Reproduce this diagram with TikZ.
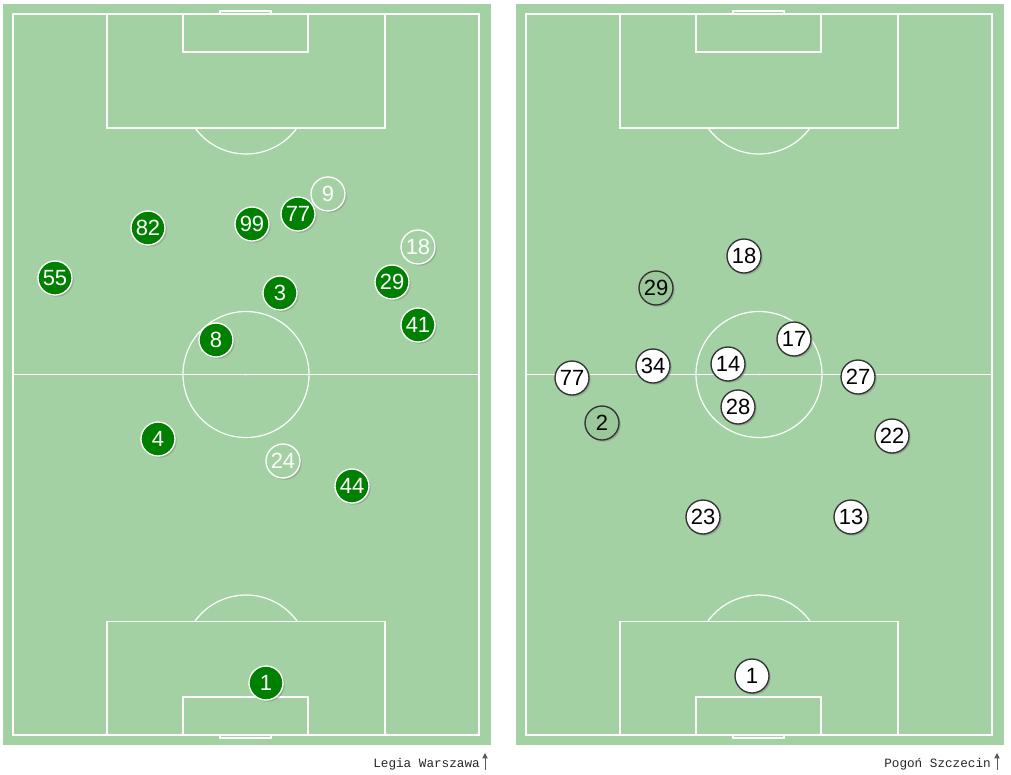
\documentclass[tikz,border=0pt]{standalone}
\usepackage{fontspec}
\setmainfont{Liberation Sans}
\setmonofont{Liberation Mono}
\usetikzlibrary{shadows,arrows.meta}
\definecolor{grass}{HTML}{A3D1A3}
\definecolor{dimgrass}{HTML}{9BC89B}
\definecolor{legiagreen}{HTML}{008000}

\begin{document}
\begin{tikzpicture}[x=0.75pt,y=-0.75pt]
\tikzset{line/.style={draw=white,line width=0.9pt},
  player/.style={circle,minimum size=25.5pt,inner sep=0pt,line width=1pt,
    font=\fontsize{16.5}{16.5}\selectfont,
    drop shadow={shadow xshift=1.3pt,shadow yshift=-1.3pt,opacity=0.45}},
  legia/.style={player,fill=legiagreen,draw=white,text=white},
  legiadim/.style={player,fill=grass,draw=white,text=white},
  pogon/.style={player,fill=white,draw=black!80,text=black},
  pogondim/.style={player,fill=dimgrass,draw=black!80,text=black},
  team/.style={font=\ttfamily\fontsize{9.5}{10}\selectfont,anchor=base east,inner sep=0pt,text=black!85},
  up/.style={draw=black!65,line width=0.6pt,-{Triangle[width=4pt,length=4pt]}}}
\useasboundingbox (0,0) rectangle (1011,775);

% the two pitches
\foreach \ox in {13,526}{
  \begin{scope}[shift={(\ox,14)}]
  \fill[grass] (-10,-10) rectangle (478,731);
  \draw[line] (0,0) rectangle (466,721);
  \draw[line] (0,360.5) -- (466,360.5);
  \draw[line] (233,360.5) circle[radius=63];
  \fill[white] (233,360.5) circle[radius=1];
  \draw[line] (94,0) rectangle (372,114);
  \draw[line] (94,721) rectangle (372,607.5);
  \draw[line] (170,0) rectangle (295,38);
  \draw[line] (170,721) rectangle (295,683);
  \draw[line] (207,0) rectangle (258,-3);
  \draw[line] (207,721) rectangle (258,724);
  \draw[line] (233,77) ++(36:63) arc[start angle=36,end angle=144,radius=63];
  \draw[line] (233,644) ++(-144:63) arc[start angle=-144,end angle=-36,radius=63];
  \end{scope}
}

% Legia Warszawa
\node[legiadim] (L9) at (328,194) {9};
\node[legia] (L77) at (298,214) {77};
\node[legia] (L99) at (252,224) {99};
\node[legia] (L82) at (148,228) {82};
\node[legiadim] (L18) at (418,247) {18};
\node[legia] (L55) at (55,278) {55};
\node[legia] (L29) at (392,282) {29};
\node[legia] (L3) at (280,293) {3};
\node[legia] (L41) at (418,325) {41};
\node[legia] (L8) at (216,340) {8};
\node[legia] (L4) at (158,439) {4};
\node[legiadim] (L24) at (283,461) {24};
\node[legia] (L44) at (352,486) {44};
\node[legia] (L1) at (266,683) {1};

% Pogon Szczecin
\node[pogon] (P18) at (744,256) {18};
\node[pogondim] (P29) at (656,288) {29};
\node[pogon] (P17) at (794,339) {17};
\node[pogon] (P34) at (653,366) {34};
\node[pogon] (P14) at (728,364) {14};
\node[pogon] (P77) at (572,378) {77};
\node[pogon] (P27) at (858,377) {27};
\node[pogon] (P28) at (738,407) {28};
\node[pogondim] (P2) at (602,423) {2};
\node[pogon] (P22) at (892,436) {22};
\node[pogon] (P23) at (703,517) {23};
\node[pogon] (P13) at (851,517) {13};
\node[pogon] (P1) at (752,676) {1};

% team names
\node[team] (legianame) at (480,767) {Legia Warszawa};
\node[team] (pogonname) at (991,767) {Pogoń Szczecin};
\coordinate (legiafoot) at (485,770);
\coordinate (legiatip) at (485,753);
\coordinate (pogonfoot) at (997,770);
\coordinate (pogontip) at (997,753);
\draw[up] (legiafoot) -- (legiatip);
\draw[up] (pogonfoot) -- (pogontip);

\end{tikzpicture}
\end{document}
